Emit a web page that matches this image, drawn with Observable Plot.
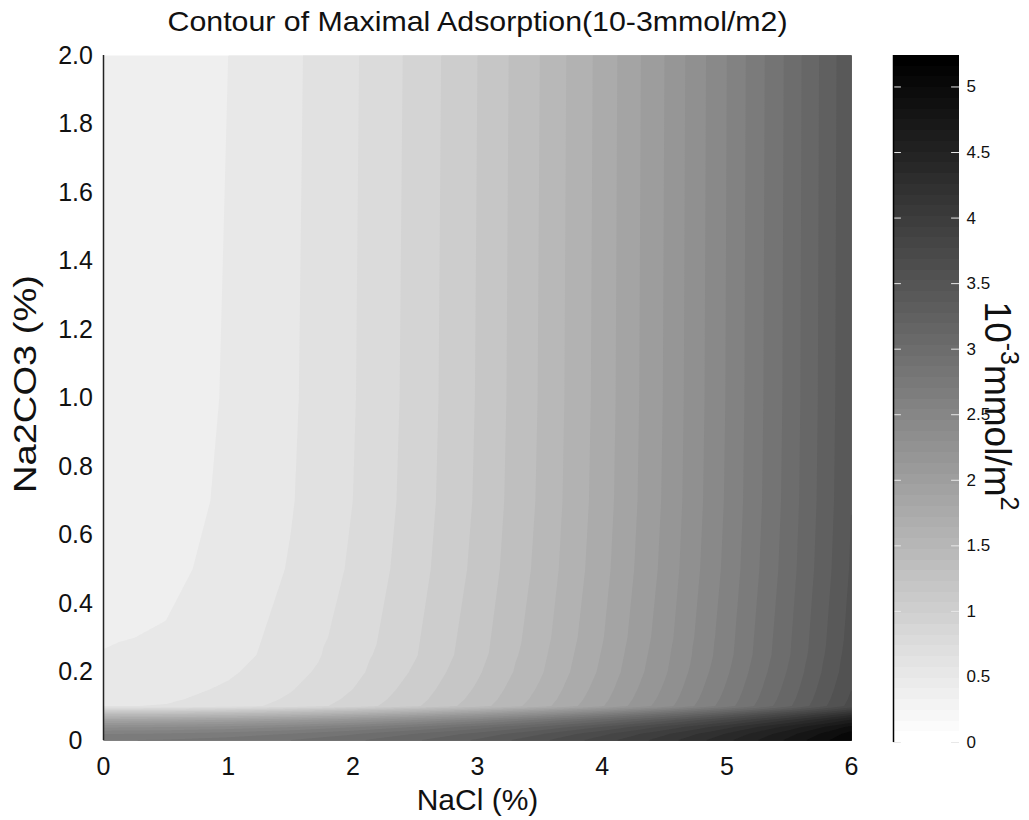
<!DOCTYPE html>
<html><head><meta charset="utf-8">
<script src="https://cdn.jsdelivr.net/npm/d3@7"></script>
<script src="https://cdn.jsdelivr.net/npm/@observablehq/plot@0.6"></script>
<style>
body{margin:0;background:#fff;}
#fig{position:relative;width:1029px;height:820px;background:#fff;font-family:"Liberation Sans",Arial,sans-serif;}
#fig svg{position:absolute;top:0;overflow:visible;}
</style></head><body><div id="fig"></div>
<script>
// NaCl (%) sample positions (columns)
const nacl = [0, 0.5, 1, 1.5, 2, 2.5, 3, 3.5, 4, 4.5, 5, 5.5, 6];
// Na2CO3 (%) sample positions (rows)
const na2co3 = [0, 0.02, 0.04, 0.06, 0.075, 0.09, 0.10, 0.12, 0.15, 0.2, 0.25, 0.3, 0.4, 0.5, 0.7, 1.0, 1.5, 2.0];
// Maximal adsorption (10^-3 mmol/m2), one row per Na2CO3 value
const adsorption = [
  [2.85, 2.87, 2.92, 3.00, 3.11, 3.26, 3.44, 3.66, 3.91, 4.19, 4.50, 4.85, 5.23],
  [2.70, 2.72, 2.77, 2.85, 2.97, 3.13, 3.31, 3.53, 3.79, 4.08, 4.40, 4.76, 5.15],
  [2.40, 2.42, 2.47, 2.56, 2.69, 2.85, 3.05, 3.28, 3.55, 3.86, 4.20, 4.58, 4.99],
  [1.95, 1.97, 2.03, 2.12, 2.25, 2.43, 2.63, 2.88, 3.17, 3.49, 3.85, 4.25, 4.69],
  [1.50, 1.52, 1.58, 1.68, 1.82, 2.00, 2.22, 2.48, 2.78, 3.12, 3.50, 3.92, 4.38],
  [1.00, 1.02, 1.08, 1.19, 1.33, 1.52, 1.75, 2.02, 2.33, 2.68, 3.08, 3.51, 3.99],
  [0.60, 0.62, 0.69, 0.80, 0.95, 1.15, 1.39, 1.67, 2.00, 2.37, 2.79, 3.25, 3.75],
  [0.57, 0.59, 0.66, 0.77, 0.92, 1.12, 1.36, 1.64, 1.97, 2.34, 2.76, 3.22, 3.72],
  [0.54, 0.56, 0.63, 0.74, 0.89, 1.09, 1.33, 1.61, 1.94, 2.31, 2.73, 3.19, 3.69],
  [0.50, 0.52, 0.59, 0.70, 0.85, 1.05, 1.29, 1.57, 1.90, 2.27, 2.69, 3.15, 3.65],
  [0.475, 0.50, 0.56, 0.67, 0.83, 1.02, 1.26, 1.55, 1.88, 2.25, 2.66, 3.12, 3.63],
  [0.46, 0.48, 0.55, 0.66, 0.81, 1.01, 1.25, 1.53, 1.86, 2.23, 2.65, 3.11, 3.61],
  [0.44, 0.46, 0.53, 0.64, 0.79, 0.99, 1.23, 1.51, 1.84, 2.21, 2.63, 3.09, 3.59],
  [0.42, 0.44, 0.51, 0.62, 0.77, 0.97, 1.21, 1.49, 1.82, 2.19, 2.61, 3.07, 3.57],
  [0.40, 0.42, 0.49, 0.60, 0.75, 0.95, 1.19, 1.47, 1.80, 2.17, 2.59, 3.05, 3.55],
  [0.39, 0.41, 0.48, 0.59, 0.74, 0.94, 1.18, 1.46, 1.79, 2.16, 2.58, 3.04, 3.54],
  [0.385, 0.405, 0.475, 0.585, 0.735, 0.935, 1.175, 1.455, 1.785, 2.155, 2.575, 3.035, 3.535],
  [0.38, 0.40, 0.47, 0.58, 0.73, 0.93, 1.17, 1.45, 1.78, 2.15, 2.57, 3.03, 3.53]
];
// contour levels
const levels = [0.33, 0.47, 0.61, 0.75, 0.89, 1.03, 1.17, 1.31, 1.45, 1.59, 1.73, 1.87, 2.01, 2.15,
  2.29, 2.43, 2.57, 2.71, 2.85, 2.99, 3.13, 3.27, 3.41, 3.55, 3.69, 3.83, 3.97, 4.11, 4.25,
  4.39, 4.53, 4.67, 4.81, 4.95, 5.09, 5.23];
const xTicks = [0, 1, 2, 3, 4, 5, 6];
const yTicks = [0, 0.2, 0.4, 0.6, 0.8, 1.0, 1.2, 1.4, 1.6, 1.8, 2.0];
const cbarTicks = [0, 0.5, 1, 1.5, 2, 2.5, 3, 3.5, 4, 4.5, 5];
const cbarMax = 5.24;
const cmapSteps = 64;
const titleText = "Contour of Maximal Adsorption(10-3mmol/m2)";
const xLabel = "NaCl (%)";
const yLabel = "Na2CO3 (%)";

const FONT = '"Liberation Sans", Arial, sans-serif';
const colorOpts = {type: "linear", domain: [0, cbarMax], range: ["#ffffff", "#000000"]};

const points = [];
na2co3.forEach((y, i) => nacl.forEach((x, j) => points.push({x, y, v: adsorption[i][j]})));

const main = Plot.plot({
  width: 880, height: 820,
  marginLeft: 103, marginRight: 29, marginTop: 55, marginBottom: 80,
  x: {domain: [0, 6]},
  y: {domain: [0, 2]},
  color: colorOpts,
  style: {fontFamily: FONT, fontSize: "25px", color: "#111", background: "transparent"},
  marks: [
    Plot.contour(points, {x: "x", y: "y", fill: "v", thresholds: levels, interpolate: "barycentric", pixelSize: 1, stroke: "none"}),
    Plot.axisX(xTicks, {tickSize: 0, tickPadding: 17, fontSize: 25, label: null, tickFormat: d => String(d)}),
    Plot.axisY(yTicks, {tickSize: 0, tickPadding: 28, textAnchor: "middle", fontSize: 25, label: null,
      tickFormat: d => d === 0 ? "0" : d.toFixed(1)}),
    Plot.ruleX([0], {stroke: "#222", strokeWidth: 1.5}),
    Plot.text([titleText], {frameAnchor: "top", dy: -33, lineAnchor: "middle", fontSize: 28, fill: "#111"}),
    Plot.text([xLabel], {frameAnchor: "bottom", dy: 60, lineAnchor: "middle", fontSize: 30, fill: "#111"}),
    Plot.text([yLabel], {frameAnchor: "left", dx: -78, dy: -14, rotate: -90, textAnchor: "middle", lineAnchor: "middle", fontSize: 32, fill: "#111"})
  ]
});
main.style.left = "0px";

// stretch title and y label to the reference's text extents
d3.select(main).selectAll("text").filter(function() { return this.textContent === titleText; })
  .attr("textLength", 620).attr("lengthAdjust", "spacingAndGlyphs");
d3.select(main).selectAll("text").filter(function() { return this.textContent === yLabel; })
  .attr("textLength", 218).attr("lengthAdjust", "spacingAndGlyphs");

const cbSteps = d3.range(cmapSteps).map(i => ({lo: i * cbarMax / cmapSteps, hi: (i + 1) * cbarMax / cmapSteps, c: i / (cmapSteps - 1) * cbarMax}));

const cbar = Plot.plot({
  width: 149, height: 820,
  marginLeft: 13, marginRight: 70, marginTop: 55, marginBottom: 78,
  x: {domain: [0, 1], axis: null},
  y: {domain: [0, cbarMax], axis: null},
  color: colorOpts,
  style: {fontFamily: FONT, fontSize: "17px", color: "#111", background: "transparent"},
  marks: [
    Plot.rect(cbSteps, {x1: 0, x2: 1, y1: "lo", y2: "hi", fill: "c", shapeRendering: "crispEdges"}),
    Plot.ruleY(cbarTicks, {x1: 0, x2: 0.12, stroke: "#e8e8e8"}),
    Plot.ruleY(cbarTicks, {x1: 0.88, x2: 1, stroke: "#e8e8e8"}),
    Plot.ruleX([0], {stroke: "#000", strokeWidth: 1.5}),
    Plot.text(cbarTicks, {x: 1, y: d => d, dx: 7, textAnchor: "start", text: d => String(d), fontSize: 17, fill: "#111"})
  ]
});
cbar.style.left = "880px";

// colorbar unit label with superscripts
const lab = d3.select(cbar).append("text")
  .attr("transform", "translate(118,406) rotate(90)")
  .attr("text-anchor", "middle")
  .attr("dominant-baseline", "central")
  .attr("font-family", FONT)
  .attr("font-size", 37)
  .attr("fill", "#111");
lab.append("tspan").text("10");
lab.append("tspan").attr("font-size", 25).attr("dy", -12).text("-3");
lab.append("tspan").attr("dy", 12).text("mmol/m");
lab.append("tspan").attr("font-size", 25).attr("dy", -12).text("2");

const fig = document.getElementById("fig");
fig.appendChild(main);
fig.appendChild(cbar);
</script>
</body></html>
